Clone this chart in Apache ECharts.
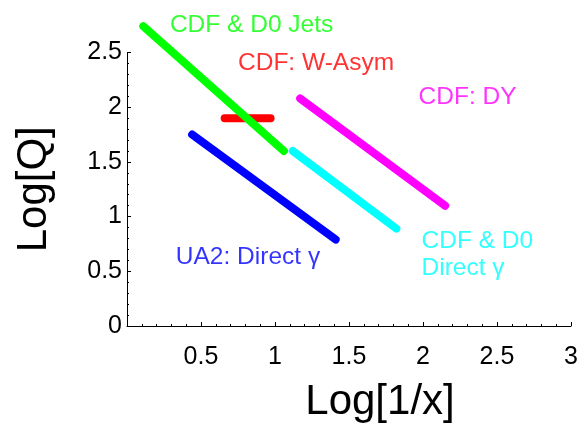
<!DOCTYPE html>
<html>
<head>
<meta charset="utf-8">
<script src="https://cdn.jsdelivr.net/npm/echarts@6/dist/echarts.min.js"></script>
<style>
  html, body { margin: 0; padding: 0; background: #fff; }
  #chart { width: 582px; height: 428px; }
</style>
</head>
<body>
<div id="chart"></div>
<script>
// Kinematic reach of each measurement in the (Log[1/x], Log[Q]) plane
const jets   = [[0.11, 2.74], [1.06, 1.60]];   // CDF & D0 jets
const wAsym  = [[0.66, 1.90], [0.97, 1.90]];   // CDF W asymmetry
const dy     = [[1.17, 2.08], [2.15, 1.10]];   // CDF Drell-Yan
const ua2    = [[0.44, 1.75], [1.41, 0.79]];   // UA2 direct photon
const tevGam = [[1.12, 1.60], [1.82, 0.89]];   // CDF & D0 direct photon

// Label anchors (left edge, middle of text) in data units
const labelText = ['CDF & D0 Jets', 'CDF: W-Asym', 'CDF: DY', 'UA2: Direct γ', 'CDF & D0\nDirect γ'];
const labelAt   = [[0.29, 2.75], [0.75, 2.40], [1.97, 2.09], [0.33, 0.63], [1.99, 0.655]];

// Axis settings
const xTicks = { min: 0, max: 3, interval: 0.5 };
const yTicks = { min: 0, max: 2.5, interval: 0.5 };

const FONT = '"Liberation Sans", Arial, Helvetica, sans-serif';
const colors = ['#ff0000', '#00ff00', '#ff00ff', '#0000ff', '#00ffff'];
const labelColors = ['#00ff00', '#ff0000', '#ff00ff', '#0000ff', '#00ffff'];

function band(name, data, color) {
  return {
    name, type: 'line', data,
    symbol: 'none', clip: false, silent: true,
    lineStyle: { color, width: 8, cap: 'round' }
  };
}

const axisCommon = {
  type: 'value',
  splitLine: { show: false },
  axisLine: { show: true, onZero: false, lineStyle: { color: '#000', width: 1 } },
  axisTick: { show: true, inside: true, length: 4, lineStyle: { color: '#000' } },
  minorTick: { show: true, splitNumber: 5, length: 2, lineStyle: { color: '#000' } },
  nameTextStyle: { fontFamily: FONT, fontSize: 42, color: '#000' }
};

const chart = echarts.init(document.getElementById('chart'), null, { renderer: 'canvas' });
chart.setOption({
  animation: false,
  backgroundColor: '#fff',
  grid: { left: 127, right: 11, top: 52.5, bottom: 100.5 },
  xAxis: Object.assign({}, axisCommon, xTicks, {
    name: 'Log[1/x]', nameLocation: 'middle', nameGap: 55,
    nameTextStyle: Object.assign({}, axisCommon.nameTextStyle, { padding: [0, 0, 0, 62] }),
    axisLabel: {
      margin: 19, fontFamily: FONT, fontSize: 25, color: '#000',
      formatter: v => (v === 0 ? '' : String(v))
    }
  }),
  yAxis: Object.assign({}, axisCommon, yTicks, {
    name: 'Log[Q]', nameLocation: 'middle', nameGap: 72,
    axisLabel: { margin: 5, fontFamily: FONT, fontSize: 25, color: '#000' }
  }),
  series: [
    band('CDF: W-Asym', wAsym, colors[0]),
    band('CDF & D0 Jets', jets, colors[1]),
    band('CDF: DY', dy, colors[2]),
    band('UA2: Direct γ', ua2, colors[3]),
    band('CDF & D0 Direct γ', tevGam, colors[4]),
    {
      name: 'labels', type: 'scatter', clip: false, silent: true,
      symbolSize: 0,
      data: labelAt.map((p, i) => ({
        value: p,
        label: {
          show: true, position: [0, 0], align: 'left', verticalAlign: 'middle',
          formatter: labelText[i], color: labelColors[i],
          fontFamily: FONT, fontSize: 24.5, lineHeight: 27
        }
      }))
    }
  ]
});
</script>
</body>
</html>
